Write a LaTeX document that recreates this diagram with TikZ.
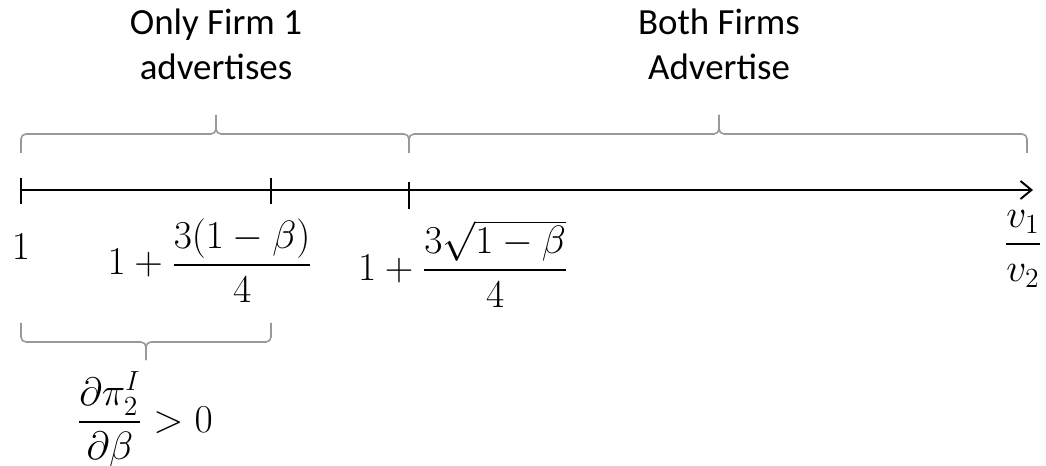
\documentclass[tikz,border=0pt]{standalone}
\usepackage{fix-cm}
\usepackage{amsmath}
\usepackage[no-math]{fontspec}
\setmainfont{Carlito}
\usetikzlibrary{arrows.meta}

\begin{document}
\begin{tikzpicture}[
    x=0.02cm, y=-0.02cm,
    axisline/.style={line width=1.1pt, -{Straight Barb[length=0.22cm, width=0.36cm]}},
    tickmark/.style={line width=1.1pt},
    curly/.style={draw=black!40, line width=0.9pt, rounded corners=0.1cm},
    head/.style={align=center, anchor=north, inner sep=0pt, font=\fontsize{21}{25.6}\selectfont},
    val/.style={anchor=base, inner sep=0pt, font=\fontsize{22.5}{27}\selectfont},
]

\useasboundingbox (0,0) rectangle (1046,466);

% Points on the axis
\coordinate (p0) at (21,190);
\coordinate (p1) at (271,190);
\coordinate (p2) at (409,190);
\coordinate (pend) at (1033,190);

% Axis and ticks
\draw[axisline] (p0) -- (pend);
\draw[tickmark] (p0) ++(0,-12) -- ++(0,26);
\draw[tickmark] (p1) ++(0,-12) -- ++(0,26);
\draw[tickmark] (p2) ++(0,-8) -- ++(0,27);

% Regions above the axis
\node[head] (only) at (216,9) {Only Firm 1\\advertises};
\node[head] (both) at (719,9) {Both Firms\\Advertise};

\draw[curly] (21,153) |- (216,134) -- (216,115);
\draw[curly] (409,153) |- (216,134) -- (216,115);
\draw[curly] (409,153) |- (719,134) -- (719,115);
\draw[curly] (1027,153) |- (719,134) -- (719,115);

% Values below the axis
\node[val] (v0) at (21,259) {$1$};
\node[val] (v1) at (210,275) {$1+\dfrac{3(1-\beta)}{4}$};
\node[val] (v2) at (463,280) {$1+\dfrac{3\sqrt{1-\beta}}{4}$};
\node[val] (vend) at (1023,254) {$\dfrac{v_1}{v_2}$};

% Region below the axis
\draw[curly] (21,323) |- (146,342) -- (146,360);
\draw[curly] (271,323) |- (146,342) -- (146,360);
\node[val] (deriv) at (145,432) {$\dfrac{\partial\pi_2^I}{\partial\beta}>0$};

\end{tikzpicture}
\end{document}
